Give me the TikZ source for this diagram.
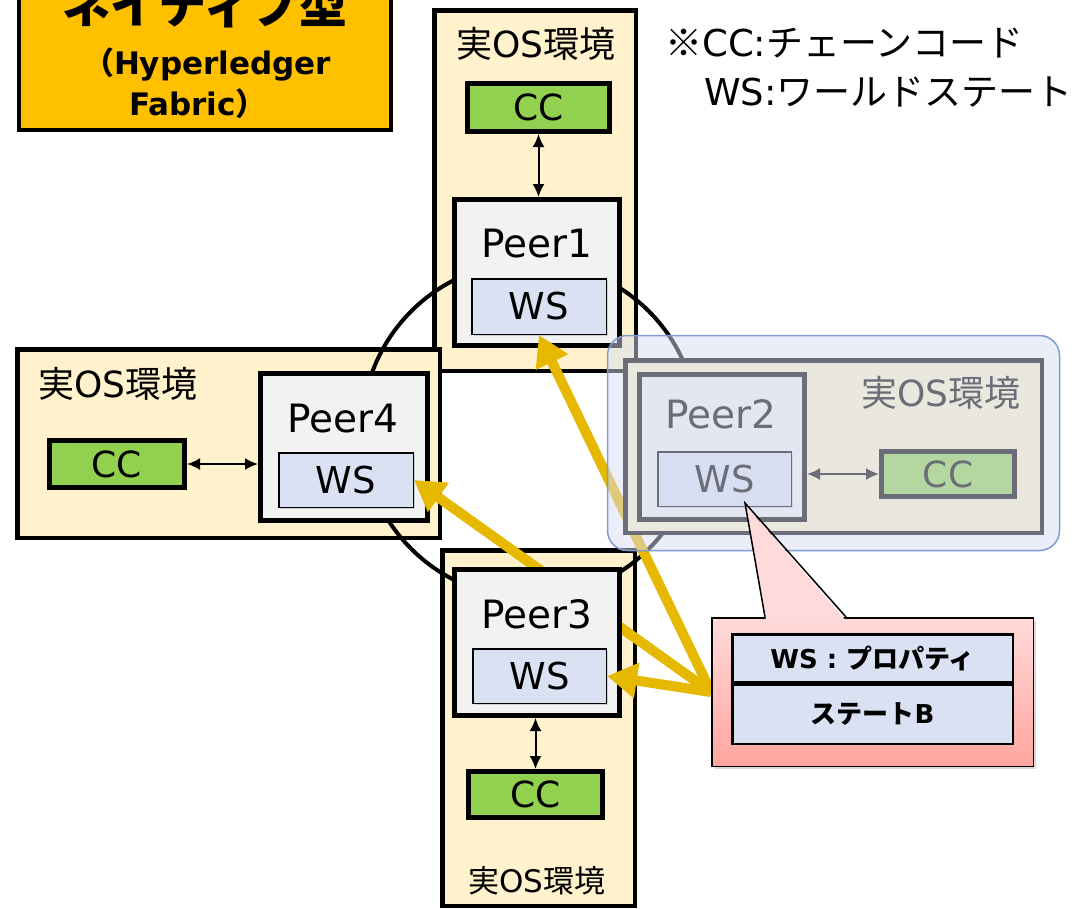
\documentclass[tikz,border=0pt]{standalone}
\usepackage{fontspec}
\setmainfont{DejaVu Sans}
\newfontfamily\jp{Noto Sans CJK JP}
\usepackage{tikz}
\usetikzlibrary{positioning, calc, shapes.geometric, arrows.meta, shadows}
\usepackage{xcolor}
\definecolor{titleorange}{HTML}{FFC000}
\definecolor{osyellow}{HTML}{FFF2CC}
\definecolor{ccgreen}{HTML}{92D050}
\definecolor{peergray}{HTML}{F2F2F2}
\definecolor{wsblue}{HTML}{DAE1F3}
\definecolor{gold}{HTML}{E6B800}
\definecolor{fadeblue}{HTML}{D7DDF1}
\definecolor{fadeline}{HTML}{7F9BD4}
\definecolor{calltop}{HTML}{FFDADA}
\definecolor{callbot}{HTML}{FFA59E}
\newcommand{\realos}{{\jp 実}OS{\jp 環境}}

\tikzstyle{OSBox} = [draw, line width=4.5pt, fill=osyellow, inner sep=0pt]
\tikzstyle{PeerBox} = [draw, line width=5pt, fill=peergray, inner sep=0pt]
\tikzstyle{CCBox} = [draw, line width=5pt, fill=ccgreen, inner sep=0pt,
font=\fontsize{36}{40}\selectfont]
\tikzstyle{WSBox} = [draw, line width=1.5pt, fill=wsblue, inner sep=0pt,
font=\fontsize{37}{40}\selectfont,
drop shadow={opacity=0.3, shadow xshift=2pt, shadow yshift=-2pt}]
\tikzstyle{PeerText} = [inner sep=0pt, anchor=base, font=\fontsize{39}{44}\selectfont]
\tikzstyle{OSText} = [inner sep=0pt, font=\fontsize{36}{40}\selectfont]
\tikzstyle{NoteText} = [inner sep=0pt, anchor=base west, font=\fontsize{37}{40}\selectfont]
\tikzstyle{Link} = [line width=2pt,
{Latex[length=13pt,width=12pt]}-{Latex[length=13pt,width=12pt]}]
\tikzstyle{Gold} = [line width=10pt, draw=gold, -{Triangle[length=30pt,width=34pt]}]
\tikzstyle{TabCell} = [draw, line width=2.5pt, fill=wsblue, inner sep=0pt,
minimum width=280.5pt, font=\fontsize{26}{30}\selectfont\bfseries]

\begin{document}
\begin{tikzpicture}[x=1pt, y=-1pt]
    \useasboundingbox (0,0) rectangle (1081,908);
    \clip (0,0) rectangle (1081,908);

    \node [draw, line width=4pt, fill=titleorange, minimum width=372pt,
        minimum height=200pt] (title) at (205,30) {};
    \node [anchor=base, font=\fontsize{48}{52}\selectfont\bfseries\jp] (t1) at (205,23) {ネイティブ型};
    \node [anchor=base, font=\fontsize{31}{34}\selectfont\bfseries] (t2) at (207,74) {{\jp （}Hyperledger};
    \node [anchor=base, font=\fontsize{31}{34}\selectfont\bfseries] (t3) at (198,115) {Fabric{\jp ）}};

    \node [NoteText] (note1) at (665,56) {{\jp ※}CC:{\jp チェーンコード}};
    \node [NoteText] (note2) at (704,105) {WS:{\jp ワールドステート}};

    \node [OSBox, minimum width=201.5pt, minimum height=360.5pt] (os1) at (535,190.5) {};
    \node [OSBox, minimum width=422.5pt, minimum height=188.5pt] (os4) at (228.5,443.5) {};
    \node [OSBox, minimum width=192.5pt, minimum height=355.5pt] (os3) at (538.5,728) {};
    \node [OSText] (os1t) at (536,44) {\realos};
    \node [OSText] (os4t) at (118,384) {\realos};
    \node [OSText, font=\fontsize{31}{34}\selectfont] (os3t) at (537,881) {\realos};

    \node [draw, circle, line width=4pt, minimum size=336pt] (ring) at (530,430) {};

    \node [PeerBox, minimum width=167pt, minimum height=147pt] (peer4) at (344,447) {};
    \node [PeerText] (p4t) at (343,432) {Peer4};
    \node [WSBox, minimum width=134.5pt, minimum height=54.5pt] (ws4) at (346,480) {WS};
    \node [CCBox, minimum width=135pt, minimum height=47pt] (cc4) at (117,464) {CC};
    \draw [Link] (cc4.east) -- (cc4.east -| peer4.west);

    \node [draw, line width=1.5pt, fill=calltop, minimum width=321.5pt,
        minimum height=148.5pt] (callout) at (872.5,692) {};
    \draw [Gold] (callout.west) -- (ws4.east);

    \node [PeerBox, minimum width=165pt, minimum height=146pt] (peer3) at (537,642.5) {};
    \node [PeerText] (p3t) at (537,628) {Peer3};
    \node [WSBox, minimum width=133.5pt, minimum height=54.5pt] (ws3) at (539.5,676) {WS};
    \node [CCBox, minimum width=134pt, minimum height=46pt] (cc3) at (535.5,794.5) {CC};
    \draw [Link] (peer3.south -| cc3.north) -- (cc3.north);

    \node [PeerBox, minimum width=165pt, minimum height=146pt] (peer1) at (537,272.5) {};
    \node [PeerText] (p1t) at (537,257) {Peer1};
    \node [WSBox, minimum width=134.5pt, minimum height=55.5pt] (ws1) at (539,306.5) {WS};
    \node [CCBox, minimum width=142pt, minimum height=48pt] (cc1) at (538.5,107.5) {CC};
    \draw [Link] (cc1.south) -- (cc1.south |- peer1.north);

    \draw [Gold] (callout.west) -- (ws1.south);
    \draw [Gold] (callout.west) -- (ws3.east);

    \node [OSBox, minimum width=416.5pt, minimum height=172.5pt] (os2) at (833.5,446.5) {};
    \node [OSText] (os2t) at (941,393) {\realos};
    \node [PeerBox, minimum width=165pt, minimum height=145pt] (peer2) at (722,447) {};
    \node [PeerText] (p2t) at (721,428) {Peer2};
    \node [WSBox, minimum width=133.5pt, minimum height=54.5pt] (ws2) at (724.5,479) {WS};
    \node [CCBox, minimum width=133pt, minimum height=45pt] (cc2) at (948,474) {CC};
    \draw [Link] (cc2.west -| peer2.east) -- (cc2.west);

    \node [draw=fadeline, line width=1.5pt, fill=fadeblue, fill opacity=0.5,
        rounded corners=20pt, minimum width=452pt, minimum height=215pt] (fade) at (833.5,443) {};

    \node [draw, line width=1.5pt, top color=calltop, bottom color=callbot,
        minimum width=321.5pt, minimum height=148.5pt,
        drop shadow={opacity=0.3, shadow xshift=3pt, shadow yshift=-3pt}] (callout) at (872.5,692) {};
    \fill [calltop] (766,619.5) -- (745,505) -- (845,619.5) -- cycle;
    \draw [line width=1.5pt, line join=miter] (765,617) -- (745,503) -- (846,617);
    \node [TabCell, minimum height=47.5pt] (row1) at (872.5,658) {WS : {\jp プロパティ}};
    \node [TabCell, minimum height=59.5pt] (row2) at (872.5,714) {{\jp ステート}B};
\end{tikzpicture}
\end{document}
